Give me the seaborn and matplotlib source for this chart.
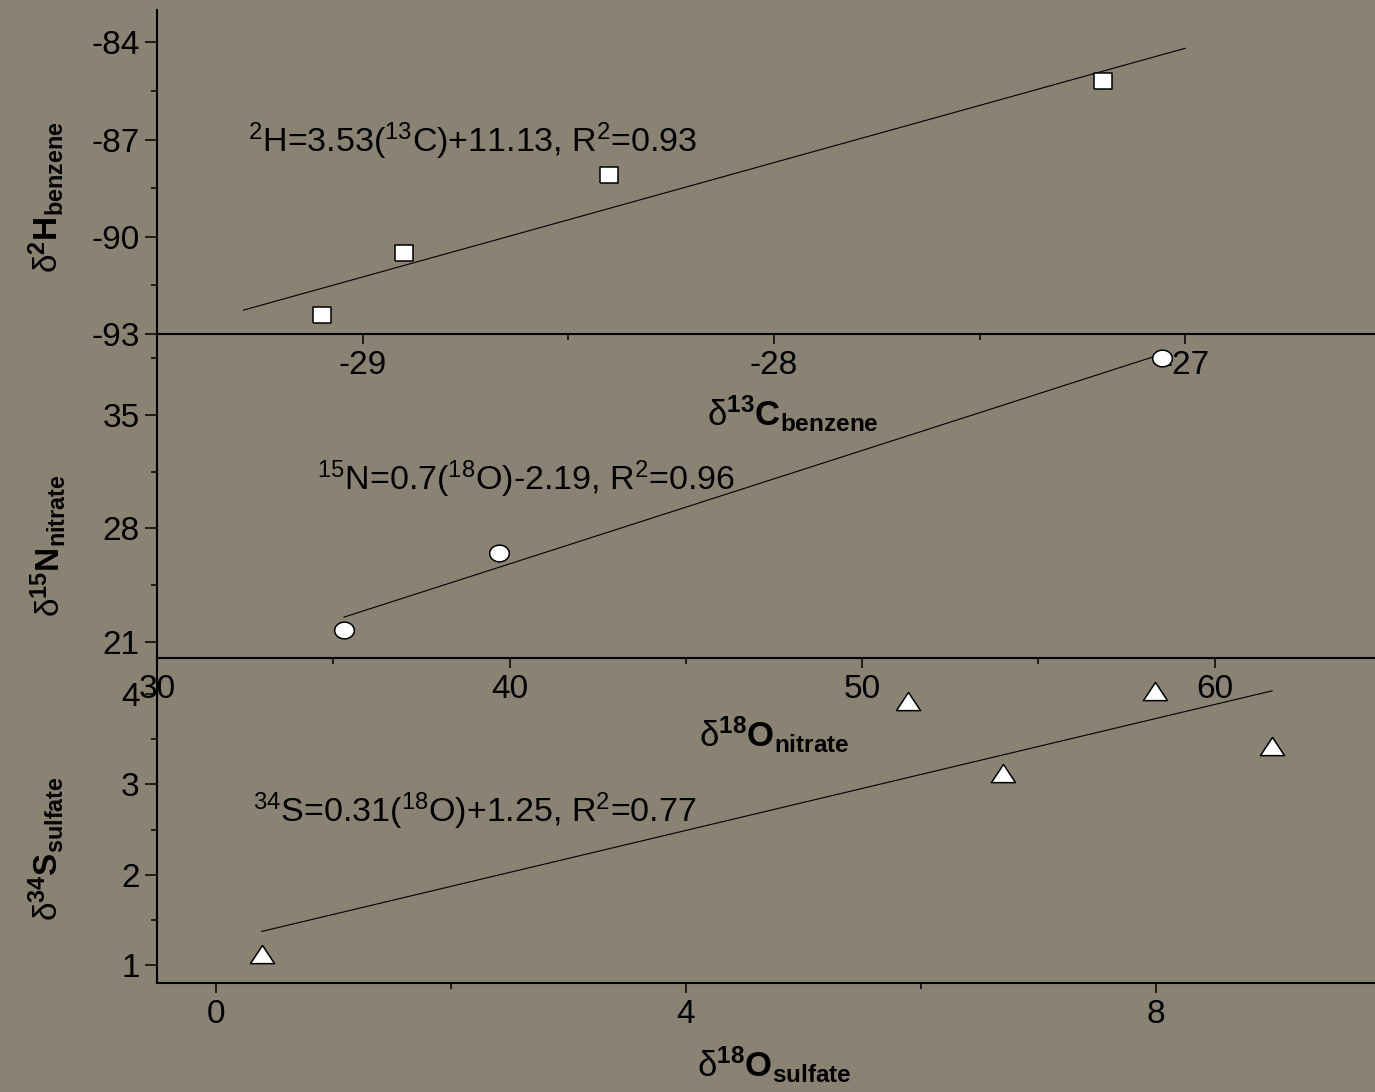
import numpy as np
import pandas as pd
import matplotlib
matplotlib.use("Agg")
import matplotlib.pyplot as plt
from matplotlib.ticker import MultipleLocator, FixedLocator, FormatStrFormatter
import seaborn as sns

# ---- data -------------------------------------------------------------
# benzene: delta13C vs delta2H
c13_benzene = [-29.10, -28.90, -28.40, -27.20]
h2_benzene = [-92.4, -90.5, -88.1, -85.2]

# nitrate: delta18O vs delta15N
o18_nitrate = [35.3, 39.7, 58.5]
n15_nitrate = [21.7, 26.5, 38.5]

# sulfate: delta18O vs delta34S
o18_sulfate = [0.39, 5.89, 6.70, 7.99, 8.99]
s34_sulfate = [1.12, 3.92, 3.13, 4.03, 3.43]

# linear fits: slope, intercept, R^2 and the x-span of the drawn line
fit_benzene = (3.53, 11.13, 0.93)
fit_nitrate = (0.7, -2.19, 0.96)
fit_sulfate = (0.31, 1.25, 0.77)
fit_span_benzene = [-29.29, -27.0]
fit_span_nitrate = [35.3, 58.5]
fit_span_sulfate = [0.39, 8.99]

# ---- style ------------------------------------------------------------
BG = "#8A8273"
sns.set_theme(style="ticks")
plt.rcParams["font.family"] = ["Liberation Sans", "DejaVu Sans"]
plt.rcParams["mathtext.fontset"] = "custom"
plt.rcParams["mathtext.rm"] = "Liberation Sans"
plt.rcParams["mathtext.it"] = "Liberation Sans:italic"
plt.rcParams["mathtext.bf"] = "Liberation Sans:bold"
plt.rcParams["axes.edgecolor"] = "black"
plt.rcParams["axes.labelcolor"] = "black"
plt.rcParams["text.color"] = "black"
plt.rcParams["xtick.color"] = "black"
plt.rcParams["ytick.color"] = "black"

TICK_FS = 24
EQ_FS = 24.5
XLABEL_FS = 25
YLABEL_FS = 24

# marker shapes (slightly flattened, as drawn in the figure)
theta = np.linspace(0, 2 * np.pi, 73)
square_m = np.array([(-1, -0.84), (1, -0.84), (1, 0.84), (-1, 0.84), (-1, -0.84)])
ellipse_m = np.column_stack([np.cos(theta), 0.85 * np.sin(theta)])
triangle_m = np.array([(0, 0.76), (-1, -0.76), (1, -0.76), (0, 0.76)])

fig = plt.figure(figsize=(13.75, 10.92), dpi=100, facecolor=BG)
W, H = 1375.0, 1092.0
left, width = 157 / W, 1234 / W
ax_top = fig.add_axes([left, 1 - 334 / H, width, 324 / H])
ax_mid = fig.add_axes([left, 1 - 658 / H, width, 324 / H])
ax_bot = fig.add_axes([left, 1 - 983 / H, width, 325 / H])


def fit_label(iso_y, iso_x, fit):
    a, b, r2 = fit
    return (f"$^{{{iso_y[0]}}}${iso_y[1]}={a:g}($^{{{iso_x[0]}}}${iso_x[1]})"
            f"{b:+g}, R$^{{2}}$={r2:g}")


panels = [
    dict(ax=ax_top, x=c13_benzene, y=h2_benzene, marker=square_m, s=185,
         fit=fit_benzene, span=fit_span_benzene,
         eq=fit_label(("2", "H"), ("13", "C"), fit_benzene), eq_pos=(0.0737, 0.562),
         xlim=(-29.5, -26.5), ylim=(-93, -83), xmaj=1, xmin=0.5, ymaj=3, ymin=1.5,
         xlabel=r"δ$^{\mathbf{13}}\mathbf{C}_{\mathbf{benzene}}$",
         ylabel=r"δ$^{\mathbf{2}}\mathbf{H}_{\mathbf{benzene}}$",
         xl_pos=(0.515, -0.185), yl_pos=(-0.074, 0.423)),
    dict(ax=ax_mid, x=o18_nitrate, y=n15_nitrate, marker=ellipse_m, s=200,
         fit=fit_nitrate, span=fit_span_nitrate,
         eq=fit_label(("15", "N"), ("18", "O"), fit_nitrate), eq_pos=(0.1297, 0.5185),
         xlim=(30, 65), ylim=(20, 40), xmaj=10, xmin=5, ymaj=7, ymin=3.5,
         xlabel=r"δ$^{\mathbf{18}}\mathbf{O}_{\mathbf{nitrate}}$",
         ylabel=r"δ$^{\mathbf{15}}\mathbf{N}_{\mathbf{nitrate}}$",
         xl_pos=(0.50, -0.175), yl_pos=(-0.072, 0.346)),
    dict(ax=ax_bot, x=o18_sulfate, y=s34_sulfate, marker=triangle_m, s=300,
         fit=fit_sulfate, span=fit_span_sulfate,
         eq=fit_label(("34", "S"), ("18", "O"), fit_sulfate), eq_pos=(0.0778, 0.4954),
         xlim=(-0.5, 10), ylim=(0.8, 4.4), xmaj=4, xmin=2, ymaj=1, ymin=0.5,
         xlabel=r"δ$^{\mathbf{18}}\mathbf{O}_{\mathbf{sulfate}}$",
         ylabel=r"δ$^{\mathbf{34}}\mathbf{S}_{\mathbf{sulfate}}$",
         xl_pos=(0.50, -0.19), yl_pos=(-0.074, 0.412)),
]

for p in panels:
    ax = p["ax"]
    ax.set_facecolor("none")
    a, b, _ = p["fit"]
    span = np.array(p["span"])
    fit_df = pd.DataFrame({"x": span, "y": a * span + b})
    sns.lineplot(data=fit_df, x="x", y="y", ax=ax, color="black", linewidth=0.8,
                 zorder=2)
    pts = pd.DataFrame({"x": p["x"], "y": p["y"]})
    sns.scatterplot(data=pts, x="x", y="y", ax=ax, marker=p["marker"], s=p["s"],
                    color="white", edgecolor="black", linewidth=1.1, zorder=3,
                    clip_on=False)
    ax.text(*p["eq_pos"], p["eq"], transform=ax.transAxes, fontsize=EQ_FS,
            ha="left", va="baseline")

    ax.set_xlim(*p["xlim"])
    ax.set_ylim(*p["ylim"])
    ax.xaxis.set_major_locator(MultipleLocator(p["xmaj"]))
    ax.xaxis.set_minor_locator(MultipleLocator(p["xmin"]))
    ax.yaxis.set_major_locator(MultipleLocator(p["ymaj"]))
    ax.yaxis.set_minor_locator(MultipleLocator(p["ymin"]))
    if ax is ax_mid:
        ax.yaxis.set_major_locator(FixedLocator([21, 28, 35]))
        ax.yaxis.set_minor_locator(FixedLocator([24.5, 31.5, 38.5]))
    ax.xaxis.set_major_formatter(FormatStrFormatter("%g"))
    ax.yaxis.set_major_formatter(FormatStrFormatter("%g"))

    sns.despine(ax=ax)
    for side in ("left", "bottom"):
        ax.spines[side].set_linewidth(1.5)
        ax.spines[side].set_color("black")
    ax.tick_params(which="major", direction="out", length=7.5, width=1.1,
                   labelsize=TICK_FS, pad=4)
    ax.tick_params(which="minor", direction="out", length=4.5, width=1.1)
    ax.tick_params(axis="y", which="major", length=8.5, pad=4)

    ax.set_xlabel(p["xlabel"], fontsize=XLABEL_FS)
    ax.set_ylabel(p["ylabel"], fontsize=YLABEL_FS)
    ax.xaxis.set_label_coords(*p["xl_pos"])
    ax.yaxis.set_label_coords(*p["yl_pos"])

fig.savefig("out.png", dpi=100, facecolor=BG)
